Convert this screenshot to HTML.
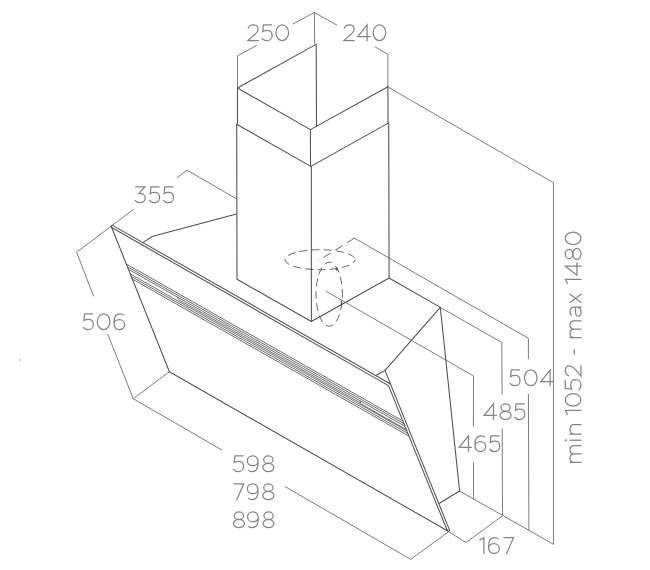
<!DOCTYPE html>
<html>
<head>
<meta charset="utf-8">
<title>Hood dimensions</title>
<style>
html,body{margin:0;padding:0;background:#fff;}
body{width:650px;height:570px;overflow:hidden;font-family:"Liberation Sans",sans-serif;}
svg{display:block;position:absolute;left:0;top:0;}
.d{stroke:#505050;stroke-width:1.05;fill:none;stroke-linecap:round;stroke-linejoin:round;}
.l{stroke:#7d7d7d;stroke-width:1;fill:none;stroke-linecap:round;stroke-linejoin:round;}
.g{stroke:#4a4a4a;stroke-width:0.8;fill:none;}
.h{stroke:#606060;stroke-width:0.95;fill:none;stroke-dasharray:7.7 4.5;stroke-dashoffset:3.85;}
.s text{font-family:"Liberation Sans",sans-serif;font-size:24.5px;fill:none;stroke:none;letter-spacing:1.2px;}
.t{stroke:#858585;stroke-width:1.25;fill:none;stroke-linecap:butt;stroke-linejoin:miter;}
</style>
</head>
<body>
<svg width="650" height="570" viewBox="0 0 650 570">
<rect width="650" height="570" fill="#fff"/>

<g class="l">
<path d="M314.4,12.4 L293.4,23.8"/>
<path d="M256.5,45.5 L237.5,55.8 L237.5,88"/>
<path d="M314.4,12.4 L314.6,44.2"/>
<path d="M314.4,12.4 L336.8,25.1"/>
<path d="M375.4,47.1 L387.9,54.4 L387.9,87"/>
<path d="M387.9,87 L553.45,182.7 L553.45,544.3 L459.6,491"/>
<path d="M354.4,238.1 L528.4,338.3 L528.4,358.7"/>
<path d="M528.4,394.2 L528.9,530.3"/>
<path d="M440.3,307.4 L501.8,342.5 L502.1,394.2"/>
<path d="M502.2,428.8 L502.5,515.8"/>
<path d="M326,291.2 L473.5,376 L473.4,426.3"/>
<path d="M473.5,463 L473.6,499"/>
<path d="M448.6,531.6 L466,542.5 L502.5,515.8"/>
<path d="M169.4,371.8 L133.2,398.7 L221.9,450.0"/>
<path d="M285.1,486.6 L410.7,559.3 L448.4,531.8"/>
<path d="M133.7,209.2 L76.6,252.3 L93.5,296"/>
<path d="M107.8,334.1 L133.2,398.7"/>
<path d="M177.4,177.5 L187.1,170.2 L236.5,198.8"/>
</g>
<g class="h">
<ellipse cx="320" cy="259.7" rx="35" ry="10"/>
<ellipse cx="329.2" cy="294.2" rx="13.2" ry="32"/>
<path d="M354.4,238.1 L318.3,260.7" style="stroke-dasharray:8.5 5.5;stroke-dashoffset:0"/>
</g>
<g class="d">
<path d="M316,44.4 L237.5,88 L310.4,129.6 L387.95,86.8"/>
<path d="M316.2,44.6 L316.5,126.5"/>
<path d="M237.5,88 L237.5,124.1"/>
<path d="M387.95,86.8 L388,122.9"/>
<path d="M310.4,129.6 L310.5,166.3"/>
<path d="M310.2,269.5 L312.9,269.5"/>
<path d="M341.4,301.3 L341.4,306.1"/>
<path d="M335.6,269 L338,269 M336.8,267.8 L336.8,270.2"/>
<path d="M236.7,124.2 L310.9,166.4 L388.7,122.9"/>
<path d="M236.7,124.2 L237,279.3 L311.3,321.5 L389.1,278 L388.7,122.9"/>
<path d="M311.3,166.4 L311.4,321.5"/>
<path d="M236.5,214 L153.8,236.1 Q152.3,236.5 151.2,237.2 L142.8,242.6"/>
<path d="M389.1,278 L440.3,307.4 L386.2,369.2 Q385.2,370.3 384,371 L375.8,375.5"/>
<path d="M440.3,307.4 L459.6,491 L439.4,503.2"/>
<path d="M390.5,384 L112.2,225.1 L111.2,226.2 L169.4,371.8 L448.2,531.2"/>
<path d="M385,370.4 L449.3,529.6 Q449.8,531 448.4,531.2 Q447.4,531.1 446.9,529.7"/>
<path d="M111.7,227.5 L388.5,385.6 L446.9,529.7"/>
</g>
<g class="g">
<path d="M126.27,264.03 L403.04,421.15"/>
<path d="M127.31,266.62 L404.09,423.75"/>
<path d="M128.34,269.21 L405.14,426.34"/>
<path d="M130.21,273.86 L407.03,431.01"/>
<path d="M131.24,276.45 L408.08,433.61"/>
<path d="M132.28,279.04 L409.13,436.21"/>
<path d="M177,296.83 Q177.5,298.31 179.6,300.20 L360.2,402.73 L361,403.88 L406.50,429.72"/>
<path d="M360.2,400.83 L360.6,402.96"/>
</g>
<circle cx="20" cy="360" r="0.7" fill="#888"/>
<defs>
<g id="g0"><ellipse cx="6.95" cy="8.5" rx="6.3" ry="7.85"/></g>
<g id="g1"><path d="M0.5,3.0 L4.9,0.75 V17"/></g>
<g id="g2"><path d="M0.9,4.3 C1.7,2.1 3.6,0.65 6.0,0.65 C8.9,0.65 10.9,2.5 10.9,5.0 C10.9,7.0 9.8,8.4 7.6,10.3 L0.7,16.35 H11.6"/></g>
<g id="g3"><path d="M0.9,0.65 H10.6 L4.9,7.1 C8.6,6.9 11.05,8.8 11.05,11.7 C11.05,14.6 8.7,16.4 5.8,16.4 C3.4,16.4 1.5,15.4 0.4,13.9"/></g>
<g id="g4"><path d="M10.0,17 V0.7 L0.7,12.3 H13.4"/></g>
<g id="g5"><path d="M10.7,0.65 H2.1 L1.4,7.3 C2.8,6.5 4.2,6.1 5.8,6.1 C8.9,6.1 10.8,8.2 10.8,11.2 C10.8,14.3 8.6,16.4 5.6,16.4 C3.4,16.4 1.6,15.4 0.4,13.9"/></g>
<g id="g6"><path d="M10.7,2.1 C9.7,1.2 8.3,0.65 6.7,0.65 C3.1,0.65 0.65,3.9 0.65,9.5 C0.65,13.9 2.8,16.4 6.0,16.4 C9.0,16.4 11.35,14.3 11.35,11.4 C11.35,8.6 9.0,6.5 6.0,6.5 C3.0,6.5 0.65,8.5 0.65,11.5"/></g>
<g id="g7"><path d="M0.4,0.65 H10.5 L3.3,17"/></g>
<g id="g8"><ellipse cx="6.15" cy="4.45" rx="4.6" ry="3.8"/><ellipse cx="6.15" cy="12.3" rx="5.5" ry="4.1"/></g>
<g id="g9"><path d="M1.3,14.9 C2.3,15.8 3.7,16.35 5.3,16.35 C8.9,16.35 11.35,13.1 11.35,7.5 C11.35,3.1 9.2,0.6 6.0,0.6 C3.0,0.6 0.65,2.7 0.65,5.6 C0.65,8.4 3.0,10.5 6.0,10.5 C9.0,10.5 11.35,8.5 11.35,5.5"/></g>
<g id="gm"><path d="M0.65,17 V4.9 M0.65,9.6 C0.65,6.7 2.4,5.4 4.8,5.4 C7.5,5.4 9.05,7.0 9.05,9.6 V17 M9.05,9.6 C9.05,6.7 10.8,5.4 13.2,5.4 C15.9,5.4 17.45,7.0 17.45,9.6 V17"/></g>
<g id="gi"><path d="M0.65,17 V4.9"/><circle cx="0.65" cy="1.2" r="0.5"/></g>
<g id="gn"><path d="M0.65,17 V4.9 M0.65,9.8 C0.65,6.9 2.7,5.4 5.5,5.4 C8.5,5.4 10.15,7.1 10.15,9.8 V17"/></g>
<g id="ga"><path d="M1.3,6.9 C2.4,5.9 3.9,5.4 5.5,5.4 C8.3,5.4 9.75,6.9 9.75,9.5 V17 M9.75,10.9 H5.2 C2.3,10.9 0.65,12.0 0.65,13.7 C0.65,15.4 2.1,16.5 4.5,16.5 C7.1,16.5 9.1,15.2 9.75,13.3"/></g>
<g id="gx"><path d="M0.5,4.9 L9.3,17 M9.3,4.9 L0.5,17"/></g>
<g id="ghy"><path d="M0,9.7 H5.9"/></g>
</defs>
<g class="t">
<use href="#g2" x="247.20" y="24.20"/>
<use href="#g5" x="261.30" y="24.20"/>
<use href="#g0" x="275.30" y="24.20"/>
<use href="#g2" x="343.20" y="24.20"/>
<use href="#g4" x="357.10" y="24.20"/>
<use href="#g0" x="372.50" y="24.20"/>
<use href="#g3" x="134.20" y="186.30"/>
<use href="#g5" x="148.80" y="186.30"/>
<use href="#g5" x="162.70" y="186.30"/>
<use href="#g5" x="82.50" y="313.20"/>
<use href="#g0" x="96.70" y="313.20"/>
<use href="#g6" x="113.30" y="313.20"/>
<use href="#g5" x="232.80" y="455.20"/>
<use href="#g9" x="246.70" y="455.20"/>
<use href="#g8" x="262.20" y="455.20"/>
<use href="#g7" x="233.20" y="483.20"/>
<use href="#g9" x="246.70" y="483.20"/>
<use href="#g8" x="262.20" y="483.20"/>
<use href="#g8" x="232.80" y="511.30"/>
<use href="#g9" x="246.90" y="511.30"/>
<use href="#g8" x="262.40" y="511.30"/>
<use href="#g5" x="509.20" y="369.30"/>
<use href="#g0" x="523.80" y="369.30"/>
<use href="#g4" x="540.10" y="369.30"/>
<use href="#g4" x="483.50" y="403.10"/>
<use href="#g8" x="499.40" y="403.10"/>
<use href="#g5" x="514.00" y="403.10"/>
<use href="#g4" x="458.50" y="435.10"/>
<use href="#g6" x="474.30" y="435.10"/>
<use href="#g5" x="488.90" y="435.10"/>
<use href="#g1" x="479.00" y="537.10"/>
<use href="#g6" x="487.90" y="537.10"/>
<use href="#g7" x="503.00" y="537.10"/>
<g class="s">
<text x="245.7" y="41.2">250</text>
<text x="341.7" y="41.2">240</text>
<text x="132.7" y="203.3">355</text>
<text x="81.0" y="330.2">506</text>
<text x="231.3" y="472.2">598</text>
<text x="231.7" y="500.2">798</text>
<text x="231.3" y="528.3">898</text>
<text x="507.7" y="386.3">504</text>
<text x="482.0" y="420.1">485</text>
<text x="457.0" y="452.1">465</text>
<text x="477.5" y="554.1">167</text>
<text transform="translate(581.6,463) rotate(-90)">min 1052 - max 1480</text>
</g>
<g transform="translate(581.6,463) rotate(-90)">
<use href="#gm" x="0.05" y="-17"/>
<use href="#gi" x="22.10" y="-17"/>
<use href="#gn" x="28.15" y="-17"/>
<use href="#g1" x="47.70" y="-17"/>
<use href="#g0" x="56.20" y="-17"/>
<use href="#g5" x="72.50" y="-17"/>
<use href="#g2" x="86.20" y="-17"/>
<use href="#ghy" x="108.20" y="-17"/>
<use href="#gm" x="124.80" y="-17"/>
<use href="#ga" x="146.20" y="-17"/>
<use href="#gx" x="159.70" y="-17"/>
<use href="#g1" x="178.60" y="-17"/>
<use href="#g4" x="187.00" y="-17"/>
<use href="#g8" x="202.90" y="-17"/>
<use href="#g0" x="217.70" y="-17"/>
</g>
</g>
</svg>
</body>
</html>
